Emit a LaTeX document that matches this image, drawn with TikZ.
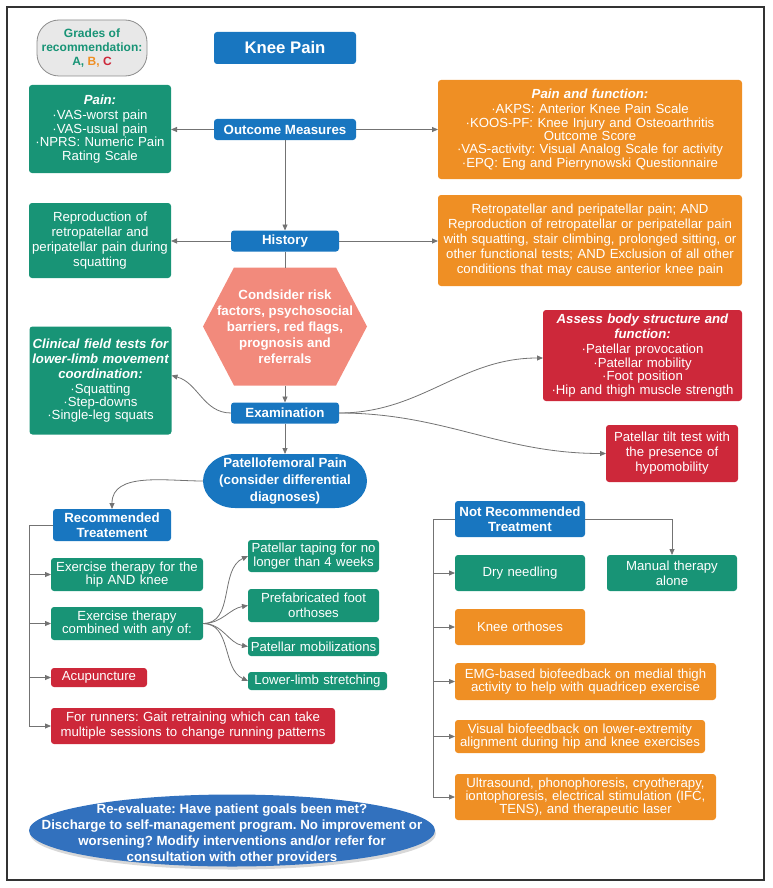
\documentclass[tikz,border=0pt]{standalone}
\usepackage{fontspec}
\setmainfont{Liberation Sans}
\usetikzlibrary{arrows.meta,backgrounds}
\definecolor{cblue}{RGB}{24,118,192}
\definecolor{cgreen}{RGB}{24,148,118}
\definecolor{corange}{RGB}{239,143,36}
\definecolor{cred}{RGB}{205,40,58}
\definecolor{csalmon}{RGB}{242,138,124}
\definecolor{cblueb}{RGB}{50,113,190}
\definecolor{cline}{RGB}{115,115,115}
\definecolor{cgrey}{RGB}{232,232,232}
\newcommand\rgn{\fontsize{13.2}{13.4}\selectfont}
\newcommand\rgw{\fontsize{13.2}{15}\selectfont}
\newcommand\bdn{\fontsize{13.3}{15}\selectfont\bfseries}
\frenchspacing
\begin{document}
\frenchspacing
\begin{tikzpicture}[x=1pt,y=-1pt,
  bx/.style={rectangle, rounded corners=3pt, text=white, align=center,
    inner xsep=1pt, inner ysep=0pt, outer sep=0pt},
  gbox/.style={bx, fill=cgreen, font=\rgn},
  obox/.style={bx, fill=corange, font=\rgn},
  rbox/.style={bx, fill=cred, font=\rgn},
  bbox/.style={bx, fill=cblue, font=\bdn},
  plain/.style={text=white, align=center, inner sep=0pt, outer sep=0pt},
  arr/.style={draw=cline, line width=0.8pt, -{Triangle[length=6pt,width=5pt]}},
  ln/.style={draw=cline, line width=0.8pt},
]
\useasboundingbox (0,0) rectangle (772,888);

% grades
\node[draw=black!45, line width=0.8pt, fill=cgrey, rounded corners=22pt,
  minimum width=110pt, minimum height=56pt, inner sep=0pt, align=center,
  text=cgreen, font=\fontsize{12}{14.3}\selectfont\bfseries] (grades) at (92,48)
  {Grades of\\recommendation:\\A, \textcolor{corange}{B,} \textcolor{cred}{C}};

\node[bbox, font=\fontsize{16.75}{18}\selectfont\bfseries, minimum width=142pt, minimum height=32pt] (knee) at (285,48) {Knee Pain};
\node[bbox, minimum width=142pt, minimum height=21pt] (om) at (285,129.5) {Outcome Measures};
\node[gbox, text width=140pt, minimum height=88pt] (pain) at (100,129)
  {{\bfseries\itshape Pain:}\\[1.6pt]·VAS-worst pain\\·VAS-usual pain\\·NPRS: Numeric Pain\\Rating Scale};
\node[obox, text width=302pt, minimum height=99pt] (pfun) at (590,129.5)
  {{\bfseries\itshape Pain and function:}\\[1.6pt]·AKPS: Anterior Knee Pain Scale\\·KOOS-PF: Knee Injury and Osteoarthritis\\Outcome Score\\·VAS-activity: Visual Analog Scale for activity\\·EPQ: Eng and Pierrynowski Questionnaire};
\node[bbox, minimum width=108pt, minimum height=21pt] (hist) at (285,241) {History};
\node[gbox, font=\rgw, text width=140pt, minimum height=75pt] (repro) at (100,240.5)
  {Reproduction of\\retropatellar and\\peripatellar pain during\\squatting};
\node[obox, font=\rgw, text width=302pt, minimum height=91pt] (retro) at (590,240.5)
  {Retropatellar and peripatellar pain; AND\\Reproduction of retropatellar or peripatellar pain\\with squatting, stair climbing, prolonged sitting, or\\other functional tests; AND Exclusion of all other\\conditions that may cause anterior knee pain};

\node[plain, font=\fontsize{13.3}{16}\selectfont\bfseries, minimum width=164pt, minimum height=118pt] (hex) at (285,326.5)
  {Condsider risk\\factors, psychosocial\\barriers, red flags,\\prognosis and\\referrals};

\node[gbox, text width=140pt, minimum height=108pt] (clin) at (100.5,380.5)
  {{\bfseries\itshape Clinical field tests for\\[1.6pt]lower-limb movement\\[1.6pt]coordination:}\\[1.6pt]·Squatting\\·Step-downs\\·Single-leg squats};
\node[bbox, minimum width=108pt, minimum height=21pt] (exam) at (285,413) {Examination};
\node[plain, font=\fontsize{13.3}{16.6}\selectfont\bfseries, minimum width=164pt, minimum height=54pt] (pf) at (285,481)
  {Patellofemoral Pain\\(consider differential\\diagnoses)};

\node[rbox, text width=197pt, minimum height=91pt] (assess) at (642.5,355.5)
  {{\bfseries\itshape Assess body structure and\\[1.6pt]function:}\\[1.6pt]·Patellar provocation\\·Patellar mobility\\·Foot position\\·Hip and thigh muscle strength};
\node[rbox, font=\rgw, text width=130pt, minimum height=57pt] (tilt) at (672,453.5)
  {Patellar tilt test with\\the presence of\\hypomobility};

\node[bbox, minimum width=118pt, minimum height=32pt] (rec) at (112,525) {Recommended\\Treatement};
\node[gbox, text width=150pt, minimum height=33pt] (ex1) at (127,574.5) {Exercise therapy for the\\hip AND knee};
\node[gbox, text width=150pt, minimum height=33pt] (ex2) at (127,623.5) {Exercise therapy\\combined with any of:};
\node[rbox, text width=94pt, minimum height=19pt] (acu) at (99,677.5) {Acupuncture};
\node[rbox, font=\rgw, text width=282pt, minimum height=36pt] (run) at (193,726)
  {For runners: Gait retraining which can take\\multiple sessions to change running patterns};
\node[gbox, font=\fontsize{13.2}{14.3}\selectfont, text width=129pt, minimum height=32pt] (tap) at (313.5,556) {Patellar taping for no\\longer than 4 weeks};
\node[gbox, font=\rgw, text width=129pt, minimum height=33pt] (pre) at (313.5,605.5) {Prefabricated foot\\orthoses};
\node[gbox, text width=129pt, minimum height=19pt] (mob) at (313.5,646.5) {Patellar mobilizations};
\node[gbox, text width=137pt, minimum height=18pt] (str) at (317.5,681) {Lower-limb stretching};

\node[bbox, minimum width=130pt, minimum height=36pt] (nr) at (520,519) {Not Recommended\\Treatment};
\node[gbox, text width=128pt, minimum height=36pt] (dry) at (520,573) {Dry needling};
\node[gbox, font=\fontsize{13.2}{14.7}\selectfont, text width=128pt, minimum height=36pt] (man) at (672,573) {Manual therapy\\alone};
\node[obox, text width=128pt, minimum height=36pt] (ko) at (520,627) {Knee orthoses};
\node[obox, font=\fontsize{13.2}{13.7}\selectfont, text width=259pt, minimum height=37pt] (emg) at (585.5,681.5)
  {EMG-based biofeedback on medial thigh\\activity to help with quadricep exercise};
\node[obox, text width=248pt, minimum height=33pt] (vis) at (580,736.5)
  {Visual biofeedback on lower-extremity\\alignment during hip and knee exercises};
\node[obox, text width=259pt, minimum height=46pt] (ult) at (585.5,797)
  {Ultrasound, phonophoresis, cryotherapy,\\iontophoresis, electrical stimulation (IFC,\\TENS), and therapeutic laser};

\node[plain, font=\fontsize{13.3}{15.7}\selectfont\bfseries, minimum width=406pt, minimum height=72pt] (re) at (232,834)
  {Re-evaluate: Have patient goals been met?\\Discharge to self-management program. No improvement or\\worsening? Modify interventions and/or refer for\\consultation with other providers};

\begin{pgfonlayer}{background}
  \draw[line width=1.3pt, black!80] (7,7) rectangle (764,880);
  \fill[csalmon] (hex.west) -- ([xshift=31pt]hex.north west) -- ([xshift=-31pt]hex.north east)
    -- (hex.east) -- ([xshift=-31pt]hex.south east) -- ([xshift=31pt]hex.south west) -- cycle;
  \fill[cblue] ([xshift=32pt]pf.north west) -- ([xshift=-32pt]pf.north east)
    arc[start angle=90, end angle=-90, x radius=32pt, y radius=27pt]
    -- ([xshift=32pt]pf.south west)
    arc[start angle=270, end angle=90, x radius=32pt, y radius=27pt] -- cycle;
  \fill[black!30, opacity=0.5] ([xshift=1pt,yshift=0.5pt]re.center) ellipse[x radius=203pt, y radius=36pt];
  \fill[cblueb] ([yshift=3.5pt]re.center) ellipse[x radius=203pt, y radius=36pt];
\end{pgfonlayer}

% connectors
\draw[arr] (om.west) -- (om.west -| pain.east);
\draw[arr] (om.east) -- (om.east -| pfun.west);
\draw[arr] (om.south) -- (hist.north);
\draw[arr] (hist.west) -- (hist.west -| repro.east);
\draw[arr] (hist.east) -- (hist.east -| retro.west);
\draw[ln] (hist.south) -- (hex.north);
\draw[arr] (hex.south) -- (exam.north);
\draw[arr] (exam.west) to[out=180,in=-15] ([yshift=5pt]clin.east);
\draw[arr] (exam.east) to[out=0,in=180] ([yshift=-2.5pt]assess.west);
\draw[arr] (exam.east) to[out=0,in=180] (tilt.west);
\draw[arr] (exam.south) -- (pf.north);
\draw[arr] (pf.west) to[out=180,in=90] (rec.north);

\coordinate (rt) at (29,525);
\draw[ln] (rec.west) -- (rt) -- (rt |- run.west);
\foreach \n in {ex1,ex2,acu,run} \draw[arr] (rt |- \n.west) -- (\n.west);

\draw[arr] (ex2.east) to[out=0,in=205] (tap.west);
\draw[arr] (ex2.east) to[out=0,in=190] (pre.west);
\draw[arr] (ex2.east) to[out=0,in=170] (mob.west);
\draw[arr] (ex2.east) to[out=0,in=155] (str.west);

\coordinate (nt) at (433,519);
\draw[ln] (nr.west) -- (nt) -- (nt |- ult.west);
\foreach \n in {dry,ko,emg,vis,ult} \draw[arr] (nt |- \n.west) -- (\n.west);
\draw[arr] (nr.east) -| (man.north);
\end{tikzpicture}
\end{document}
